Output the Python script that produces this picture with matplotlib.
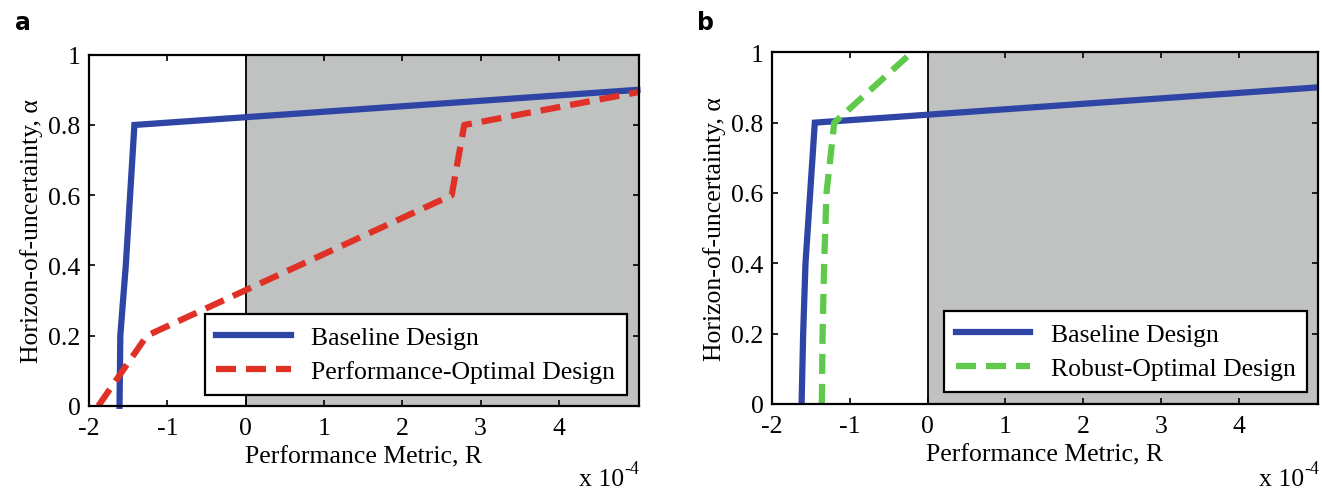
import matplotlib
matplotlib.use("Agg")
import matplotlib.pyplot as plt

plt.rcParams['font.family'] = ['Liberation Serif', 'DejaVu Serif']
plt.rcParams['axes.unicode_minus'] = False

# panel a
base_a_x = [-1.61, -1.60, -1.53, -1.42, 5.0]
base_a_y = [0.0, 0.2, 0.4, 0.8, 0.9]
perf_x = [-1.88, -1.26, 2.63, 2.79, 5.0]
perf_y = [0.0, 0.2, 0.6, 0.8, 0.893]

# panel b
base_b_x = [-1.62, -1.60, -1.57, -1.45, 5.0]
base_b_y = [0.0, 0.2, 0.4, 0.8, 0.9]
rob_x = [-1.36, -1.35, -1.33, -1.30, -1.20, -0.20]
rob_y = [0.0, 0.2, 0.4, 0.6, 0.8, 1.0]

xticks = [-2, -1, 0, 1, 2, 3, 4]
yticks = [0, 0.2, 0.4, 0.6, 0.8, 1]
ytick_labels = ['0', '0.2', '0.4', '0.6', '0.8', '1']

blue = '#2f45a6'
red = '#e03127'
green = '#5ec94b'
grey = '#c0c2c1'
fs = 18.5

fig = plt.figure(figsize=(13.22, 4.89), dpi=100)
ax1 = fig.add_axes([0.0673, 0.168, 0.416, 0.718])
ax2 = fig.add_axes([0.584, 0.172, 0.413, 0.719])


def style(ax):
    ax.axvspan(0, 5.05, color=grey, zorder=0, lw=0)
    ax.axvline(0, color='black', lw=1.3, zorder=1)
    ax.set_xlim(-2, 5.02)
    ax.set_ylim(0, 1)
    ax.set_xticks(xticks)
    ax.set_xticklabels([str(t) for t in xticks])
    ax.set_yticks(yticks)
    ax.set_yticklabels(ytick_labels)
    ax.tick_params(direction='in', top=True, right=True, labelsize=fs,
                   length=4, width=1.2)
    ax.tick_params(axis='x', pad=8)
    ax.tick_params(axis='y', pad=6)
    for s in ax.spines.values():
        s.set_linewidth(1.6)
        s.set_zorder(5)
    ax.set_xlabel('Performance Metric, R', fontsize=fs, labelpad=5)
    ax.set_ylabel('Horizon-of-uncertainty, α', fontsize=fs, labelpad=4)


def legend(ax, anchor):
    leg = ax.legend(loc='lower right', bbox_to_anchor=anchor,
                    borderaxespad=0, fontsize=fs, fancybox=False, framealpha=1,
                    edgecolor='black', handlelength=2.9, borderpad=0.45,
                    labelspacing=0.45, handletextpad=0.8)
    leg.get_frame().set_linewidth(1.6)


def exponent(xr):
    y = 1 - 480 / 489
    fig.text(xr - 17 / 1322, y, 'x 10', fontsize=fs, ha='right', va='center')
    fig.text(xr - 17 / 1322, y + 10 / 489, '-4', fontsize=13, ha='left', va='center')


style(ax1)
ax1.plot(base_a_x, base_a_y, color=blue, lw=4.5, solid_joinstyle='miter',
         label='Baseline Design', zorder=3, clip_on=False)
ax1.plot(perf_x, perf_y, color=red, lw=4.5, dashes=(3.2, 1.6),
         label='Performance-Optimal Design', zorder=3)
legend(ax1, (0.978, 0.031))

style(ax2)
ax2.plot(base_b_x, base_b_y, color=blue, lw=4.5, solid_joinstyle='miter',
         label='Baseline Design', zorder=3)
ax2.plot(rob_x, rob_y, color=green, lw=4.5, dashes=(3.2, 1.6),
         label='Robust-Optimal Design', zorder=3)
legend(ax2, (0.98, 0.034))

exponent(641 / 1322)
exponent(1321 / 1322)

fig.text(15 / 1322, 1 - 23 / 489, 'a', fontsize=17, fontweight='bold',
         family='DejaVu Sans', va='center')
fig.text(697 / 1322, 1 - 23 / 489, 'b', fontsize=17, fontweight='bold',
         family='DejaVu Sans', va='center')

fig.savefig('out.png', dpi=100)
